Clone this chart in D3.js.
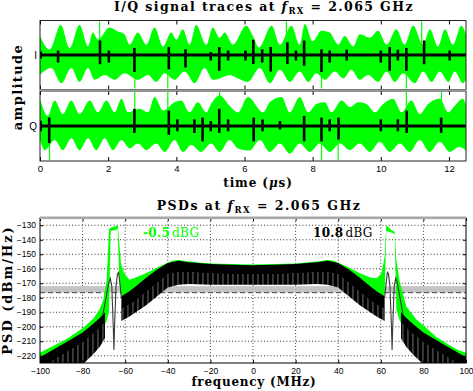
<!DOCTYPE html>
<html>
<head>
<meta charset="utf-8">
<script src="https://d3js.org/d3.v7.min.js"></script>
<style>
  body { margin: 0; background: #fff; }
  text { font-family: "Liberation Sans", Arial, sans-serif; }
  .serif { font-family: "DejaVu Serif", serif; font-weight: bold; }
</style>
</head>
<body>
<div id="fig"></div>
<script>
// ---------- data ----------
var tTicks = [0, 2, 4, 6, 8, 10, 12];
var fTicks = [-100, -80, -60, -40, -20, 0, 20, 40, 60, 80, 100];
var pTicks = [-220, -210, -200, -190, -180, -170, -160, -150, -140, -130];

// green envelope nodes [time us, amplitude]
var iUpper = [[0,0.55],[0.28,0.16],[0.61,0.87],[0.87,0.2],[1.16,0.87],[1.41,0.25],[1.55,0.65],[1.7,0.45],[2.04,0.8],[2.29,0.68],[2.48,0.6],[2.63,0.3],[2.87,0.65],[3.12,0.3],[3.36,0.8],[3.61,0.25],[3.85,0.65],[4.0,0.45],[4.19,0.75],[4.39,0.3],[4.58,0.87],[4.88,0.3],[5.07,0.8],[5.27,0.5],[5.42,0.65],[5.66,0.3],[6.05,0.85],[6.25,0.55],[6.42,0.22],[6.8,0.85],[7.04,0.3],[7.38,0.85],[7.62,0.3],[7.77,0.9],[8.0,0.4],[8.26,0.7],[8.5,0.65],[8.75,0.3],[8.94,0.55],[9.19,0.25],[9.38,0.6],[9.68,0.5],[9.92,0.7],[10.17,0.3],[10.46,0.75],[10.7,0.3],[10.95,0.85],[11.24,0.3],[11.44,0.75],[11.68,0.25],[11.88,0.75],[12.12,0.3],[12.36,0.85],[12.5,0.6]];
var iLower = [[0,-0.58],[0.33,-0.38],[0.63,-0.82],[0.92,-0.38],[1.16,-0.78],[1.41,-0.38],[1.6,-0.72],[1.9,-0.58],[2.19,-0.72],[2.48,-0.53],[2.87,-0.72],[3.17,-0.58],[3.41,-0.78],[3.66,-0.53],[3.95,-0.72],[4.24,-0.48],[4.54,-0.82],[4.83,-0.38],[5.07,-0.72],[5.27,-0.68],[5.56,-0.58],[5.81,-0.68],[6.1,-0.78],[6.45,-0.38],[6.75,-0.82],[7.04,-0.43],[7.33,-0.78],[7.62,-0.48],[7.87,-0.78],[8.11,-0.53],[8.36,-0.72],[8.65,-0.48],[8.9,-0.68],[9.14,-0.43],[9.38,-0.72],[9.63,-0.58],[9.92,-0.78],[10.17,-0.48],[10.41,-0.78],[10.66,-0.53],[11.0,-0.82],[11.24,-0.48],[11.49,-0.78],[11.73,-0.48],[11.98,-0.78],[12.17,-0.48],[12.41,-0.82],[12.5,-0.7]];
var qUpper = [[0,0.78],[0.23,0.29],[0.43,0.73],[0.67,0.34],[0.92,0.73],[1.16,0.34],[1.46,0.73],[1.7,0.39],[1.95,0.73],[2.19,0.39],[2.39,0.78],[2.58,0.39],[2.92,0.49],[3.17,0.39],[3.36,0.83],[3.61,0.44],[3.95,0.68],[4.14,0.73],[4.39,0.39],[4.63,0.68],[4.88,0.39],[5.02,0.63],[5.27,0.88],[5.56,0.58],[5.81,0.39],[6.1,0.83],[6.55,0.39],[6.74,0.68],[7.09,0.83],[7.33,0.39],[7.62,0.83],[7.87,0.39],[8.11,0.63],[8.36,0.68],[8.55,0.39],[8.85,0.73],[9.09,0.54],[9.34,0.68],[9.58,0.63],[9.83,0.39],[10.07,0.63],[10.36,0.78],[10.61,0.39],[10.9,0.73],[11.14,0.34],[11.39,0.63],[11.73,0.78],[11.98,0.39],[12.17,0.58],[12.41,0.78],[12.5,0.6]];
var qLower = [[0,-0.4],[0.14,-0.69],[0.43,-0.4],[0.67,-0.69],[0.92,-0.35],[1.16,-0.69],[1.41,-0.35],[1.65,-0.69],[1.9,-0.35],[2.14,-0.69],[2.39,-0.4],[2.63,-0.64],[2.87,-0.5],[3.12,-0.69],[3.41,-0.5],[3.66,-0.74],[3.95,-0.4],[4.19,-0.74],[4.44,-0.54],[4.73,-0.74],[5.02,-0.5],[5.27,-0.74],[5.56,-0.4],[5.81,-0.64],[6.15,-0.7],[6.45,-0.4],[6.74,-0.74],[7.04,-0.5],[7.33,-0.79],[7.62,-0.5],[7.92,-0.74],[8.21,-0.5],[8.5,-0.74],[8.8,-0.5],[9.09,-0.69],[9.38,-0.5],[9.68,-0.74],[9.97,-0.45],[10.26,-0.74],[10.56,-0.5],[10.85,-0.74],[11.14,-0.4],[11.43,-0.74],[11.73,-0.45],[12.02,-0.74],[12.3,-0.6],[12.5,-0.7]];

// thin green spikes [time, direction]
var iGreenSpikes = [[1.75,1],[2.78,-1],[3.75,-1],[7.23,1],[8.26,-1],[10.75,-1],[11.2,1]];
var qGreenSpikes = [[0.28,-1],[2.78,1],[3.75,1],[5.27,1],[8.26,-1],[8.75,-1],[10.75,1],[11.78,1]];

// black pulses [time, top, bottom]
var iPulses = [[0.02,0.1,-0.1],[0.53,0.13,-0.22],[1.76,0.42,-0.27],[2.02,0.13,-0.22],[2.77,0.2,-0.49],[3.78,0.23,-0.41],[4.27,0.17,-0.36],[5.01,0.09,-0.16],[5.26,0.23,-0.46],[5.52,0.13,-0.16],[6.03,0.13,-0.16],[6.26,0.44,-0.26],[6.52,0.17,-0.22],[6.77,0.23,-0.48],[7.26,0.37,-0.26],[7.51,0.13,-0.16],[7.75,0.42,-0.31],[8.26,0.17,-0.49],[8.5,0.13,-0.22],[9.0,0.15,-0.16],[10.0,0.13,-0.22],[10.26,0.23,-0.46],[10.5,0.15,-0.16],[10.75,0.2,-0.46],[11.27,0.42,-0.27],[12.02,0.13,-0.16]];
var qPulses = [[0.02,0.15,-0.15],[0.27,0.24,-0.49],[2.77,0.49,-0.2],[3.78,0.44,-0.25],[4.03,0.19,-0.15],[4.53,0.19,-0.2],[4.77,0.24,-0.44],[5.01,0.14,-0.15],[5.26,0.49,-0.2],[5.52,0.19,-0.15],[6.27,0.24,-0.44],[6.53,0.19,-0.15],[7.04,0.14,-0.1],[7.75,0.29,-0.44],[8.26,0.24,-0.44],[8.5,0.19,-0.15],[8.76,0.24,-0.39],[10.0,0.19,-0.15],[10.5,0.19,-0.15],[10.76,0.44,-0.2],[11.77,0.24,-0.2]];

// PSD, green trace envelope (MHz, dBm/Hz)
var fG   = [-100,-87.5,-80,-75,-72,-70.3,-68.7,-67.6,-66.8,-65,-63.5,-62.8,-62,-60.5,-58,-55,-50,-44,-38,-35,-30,-20,-10,0,10,20,30,35,38,44,50,55,58,60.3,61.8,62.6,64.9,66.5,67.3,68.9,72,76.7,80,86.1,95.5,100];
var gTop = [-218,-208.5,-201,-194.5,-188,-181.6,-167.8,-133,-131.5,-131,-129.8,-142,-156,-163,-167.5,-166,-163,-158.5,-154.5,-154,-155,-156.3,-156.8,-157,-156.8,-156.3,-155,-154,-154.5,-158.5,-163,-166,-166.6,-163.2,-151.7,-129.8,-133.3,-134.4,-154,-168.9,-186,-195,-199,-207,-215.5,-218];
var gBot = [-230,-224,-215,-208,-203,-200,-196,-190,-134,-133.5,-132.5,-168,-178,-180,-178,-176,-170,-165,-161,-160,-161,-162,-162,-162,-162,-162,-161,-160,-161,-165,-170,-176,-178,-180,-178,-134,-135,-136,-188,-196,-203,-208,-213,-220,-228,-230];

// PSD, black trace: top edge, bottom of solid part, bottom of comb
var fB   = [-100,-90,-80,-75,-72,-69.5,-65,-61.8,-58,-55,-50,-45,-40,-35,-30,-20,-10,0,10,20,30,35,40,45,50,55,58,61.8,65,69.5,72,75,80,90,100];
var bTop = [-221,-212.5,-204,-198,-194,-190,null,-179,-175.5,-172,-166,-160.5,-156,-154.5,-155.5,-156.8,-157.3,-157.5,-157.3,-156.8,-155.5,-154.5,-156,-160.5,-166,-172,-175.5,-179,null,-190,-194,-198,-204,-212.5,-221];
var bMid = [-229,-220,-211,-205,-201,-197,null,-188,-185,-182,-176,-170,-164,-162.5,-162.5,-163.5,-164,-164,-164,-163.5,-162.5,-162.5,-164,-170,-176,-182,-185,-188,null,-197,-201,-205,-211,-220,-229];
var bBot = [-245,-236,-226,-219,-214,-208,null,-196,-193,-190,-185,-179,-173,-171,-170.5,-171,-171,-171,-171,-171,-170.5,-171,-173,-179,-185,-190,-193,-196,null,-208,-214,-219,-226,-236,-245];

// narrow black humps around the two tones
var fHumpL = [-70.5,-69,-67.8,-67,-66.3,-65.6,-65.3,-65,-64.3,-63.6,-63.1,-62.5,-61.8];
var dbHumpL = [-192,-180,-170,-166.6,-172,-200,-216,-200,-172,-163.5,-162.5,-170,-180];
var fHumpR = [61.8,62.5,63.1,63.6,64.3,65,65.3,65.6,66.3,67,67.8,69,70.5];
var dbHumpR = [-180,-170,-162.5,-163.5,-172,-200,-216,-200,-172,-166.6,-170,-180,-192];

var floorBand = [-176.5, -172];

var GREEN = "#00ff00";

// ---------- svg ----------
var svg = d3.select("#fig").append("svg")
    .attr("width", 473).attr("height", 391);
svg.append("rect").attr("width", 473).attr("height", 391).attr("fill", "#fff");
var defs = svg.append("defs");

// ---------- top: I / Q traces ----------
var xT = d3.scaleLinear().domain([0, 12.5]).range([40, 466]);

var panels = [
  {name: "I", up: iUpper, lo: iLower, green: iGreenSpikes, pulses: iPulses, top: 20.5, bottom: 89.5},
  {name: "Q", up: qUpper, lo: qLower, green: qGreenSpikes, pulses: qPulses, top: 91, bottom: 161}
];

panels.forEach(function(p, k) {
  var y = d3.scaleLinear().domain([-1, 1]).range([p.bottom, p.top]);
  defs.append("clipPath").attr("id", "clip" + p.name).append("rect")
    .attr("x", xT(0)).attr("y", p.top)
    .attr("width", xT(12.5) - xT(0)).attr("height", p.bottom - p.top);
  var body = svg.append("g").attr("clip-path", "url(#clip" + p.name + ")");

  var env = d3.area()
    .x(function(d) { return xT(d[0]); })
    .y0(y(0))
    .y1(function(d) { return y(d[1]); })
    .curve(d3.curveMonotoneX);
  body.append("path").datum(p.up).attr("d", env).attr("fill", GREEN);
  body.append("path").datum(p.lo).attr("d", env).attr("fill", GREEN);

  body.selectAll(".gs").data(p.green).enter().append("line")
    .attr("x1", function(d) { return xT(d[0]); })
    .attr("x2", function(d) { return xT(d[0]); })
    .attr("y1", y(0))
    .attr("y2", function(d) { return y(d[1] * 0.97); })
    .attr("stroke", GREEN).attr("stroke-width", 1.2);

  // black trace: baseline plus pulses
  body.append("path").datum(xT.domain())
    .attr("d", d3.line().x(function(d) { return xT(d); }).y(y(0)))
    .attr("stroke", "#000").attr("stroke-width", 3.2);
  body.selectAll(".pl").data(p.pulses).enter().append("line")
    .attr("x1", function(d) { return xT(d[0]); })
    .attr("x2", function(d) { return xT(d[0]); })
    .attr("y1", function(d) { return y(d[1]); })
    .attr("y2", function(d) { return y(d[2]); })
    .attr("stroke", "#000").attr("stroke-width", 2.6);

  // ticks inside the box
  var tTop = svg.append("g").attr("transform", "translate(0," + p.top + ")")
    .call(d3.axisTop(xT).tickValues(tTicks).tickSize(-4).tickFormat(""));
  var tBot = svg.append("g").attr("transform", "translate(0," + p.bottom + ")")
    .call(d3.axisBottom(xT).tickValues(tTicks).tickSize(-4).tickPadding(4)
      .tickFormat(k == 1 ? d3.format("d") : ""));
  [tTop, tBot].forEach(function(a) {
    a.select(".domain").remove();
    a.selectAll("line").attr("stroke", "#000");
    a.selectAll("text").attr("font-size", 9.5).attr("fill", "#000")
      .style("font-family", "'Liberation Sans', Arial, sans-serif");
  });

  svg.append("rect").attr("x", xT(0)).attr("y", p.top)
    .attr("width", xT(12.5) - xT(0)).attr("height", p.bottom - p.top)
    .attr("fill", "none").attr("stroke", "#222").attr("stroke-width", 1);

  svg.append("text").attr("x", 37).attr("y", y(0)).attr("dy", "0.35em")
    .attr("text-anchor", "end").attr("font-size", 10).text(p.name);
});

// gray seam between the I and Q boxes
svg.append("rect").attr("x", xT(0)).attr("y", 89.3)
  .attr("width", xT(12.5) - xT(0)).attr("height", 2).attr("fill", "#9a9a9a");

// titles / labels for the top figure
var t1 = svg.append("text").attr("class", "serif").attr("x", 264).attr("y", 11)
  .attr("text-anchor", "middle").attr("font-size", 12.5).attr("letter-spacing", 1.4);
t1.append("tspan").text("I/Q signal traces at ");
t1.append("tspan").attr("font-style", "italic").text("f");
t1.append("tspan").attr("font-size", 8.5).attr("dy", 3).text("RX");
t1.append("tspan").attr("dy", -3).text(" = 2.065 GHz");

var xl1 = svg.append("text").attr("class", "serif").attr("x", 258).attr("y", 187)
  .attr("text-anchor", "middle").attr("font-size", 12).attr("letter-spacing", 0.9);
xl1.append("tspan").text("time (");
xl1.append("tspan").attr("font-style", "italic").text("\u03bc");
xl1.append("tspan").text("s)");

svg.append("text").attr("class", "serif")
  .attr("transform", "translate(22,87) rotate(-90)")
  .attr("text-anchor", "middle").attr("font-size", 13).attr("letter-spacing", 1.4)
  .text("amplitude");

// ---------- bottom: PSDs ----------
var xF = d3.scaleLinear().domain([-100, 100]).range([40, 466]);
var yP = d3.scaleLinear().domain([-225, -125]).range([363, 218]);

defs.append("clipPath").attr("id", "clipP").append("rect")
  .attr("x", xF(-100)).attr("y", yP(-125))
  .attr("width", xF(100) - xF(-100)).attr("height", yP(-225) - yP(-125));

var comb = defs.append("pattern").attr("id", "comb")
  .attr("patternUnits", "userSpaceOnUse").attr("width", 5).attr("height", 8);
comb.append("rect").attr("width", 5).attr("height", 8).attr("fill", "#000");
comb.append("rect").attr("x", 2.5).attr("width", 0.9).attr("height", 8).attr("fill", "#7a7a7a");

var plot = svg.append("g").attr("clip-path", "url(#clipP)");

// dotted grid
plot.selectAll(".gv").data(fTicks.slice(1, -1)).enter().append("line")
  .attr("x1", function(d) { return xF(d); }).attr("x2", function(d) { return xF(d); })
  .attr("y1", yP(-125)).attr("y2", yP(-225))
  .attr("stroke", "#000").attr("stroke-width", 0.8).attr("stroke-dasharray", "1,2.2");
plot.selectAll(".gh").data(pTicks).enter().append("line")
  .attr("x1", xF(-100)).attr("x2", xF(100))
  .attr("y1", function(d) { return yP(d); }).attr("y2", function(d) { return yP(d); })
  .attr("stroke", "#000").attr("stroke-width", 0.8).attr("stroke-dasharray", "1,2.2");

// noise floor band
plot.append("rect").attr("x", xF(-100)).attr("width", xF(100) - xF(-100))
  .attr("y", yP(floorBand[1])).attr("height", yP(floorBand[0]) - yP(floorBand[1]))
  .attr("fill", "#c4c4c4");
plot.append("line").attr("x1", xF(-100)).attr("x2", xF(100))
  .attr("y1", yP(floorBand[0])).attr("y2", yP(floorBand[0]))
  .attr("stroke", "#444").attr("stroke-dasharray", "5,3");

// green PSD
var gRows = fG.map(function(f, i) { return {f: f, top: gTop[i], bot: gBot[i]}; });
plot.append("path").datum(gRows)
  .attr("d", d3.area().x(function(d) { return xF(d.f); })
    .y1(function(d) { return yP(d.top); }).y0(function(d) { return yP(d.bot); }))
  .attr("fill", GREEN);

// black PSD
var bRows = fB.map(function(f, i) { return {f: f, top: bTop[i], mid: bMid[i], bot: bBot[i]}; });
var has = function(d) { return d.top != null; };
plot.append("path").datum(bRows)
  .attr("d", d3.area().defined(has).x(function(d) { return xF(d.f); })
    .y1(function(d) { return yP(d.top); }).y0(function(d) { return yP(d.mid); }))
  .attr("fill", "#000");
plot.append("path").datum(bRows)
  .attr("d", d3.area().defined(has).x(function(d) { return xF(d.f); })
    .y1(function(d) { return yP(d.mid) - 0.5; }).y0(function(d) { return yP(d.bot); }))
  .attr("fill", "url(#comb)");

var hump = d3.line().x(function(d) { return xF(d[0]); }).y(function(d) { return yP(d[1]); });
[[fHumpL, dbHumpL], [fHumpR, dbHumpR]].forEach(function(h) {
  plot.append("path").datum(d3.zip(h[0], h[1])).attr("d", hump)
    .attr("fill", "none").attr("stroke", "#3a3a3a").attr("stroke-width", 1.1);
});

// axes
var ax = svg.append("g").attr("transform", "translate(0," + yP(-225) + ")")
  .call(d3.axisBottom(xF).tickValues(fTicks).tickSize(-3).tickPadding(5)
    .tickFormat(function(d) { return d < 0 ? "\u2212" + (-d) : d; }));
var ay = svg.append("g").attr("transform", "translate(" + xF(-100) + ",0)")
  .call(d3.axisLeft(yP).tickValues(pTicks).tickSize(-3).tickPadding(4)
    .tickFormat(function(d) { return "\u2212" + (-d); }));
var ayr = svg.append("g").attr("transform", "translate(" + xF(100) + ",0)")
  .call(d3.axisRight(yP).tickValues(pTicks).tickSize(-3).tickFormat(""));
var axt = svg.append("g").attr("transform", "translate(0," + yP(-125) + ")")
  .call(d3.axisTop(xF).tickValues(fTicks).tickSize(-3).tickFormat(""));
[ax, ay, ayr, axt].forEach(function(a) {
  a.select(".domain").remove();
  a.selectAll("line").attr("stroke", "#000");
  a.selectAll("text").attr("font-size", 8.5).attr("fill", "#000")
    .style("font-family", "'Liberation Sans', Arial, sans-serif");
});

svg.append("rect").attr("x", xF(-100)).attr("y", yP(-125))
  .attr("width", xF(100) - xF(-100)).attr("height", yP(-225) - yP(-125))
  .attr("fill", "none").attr("stroke", "#000");
svg.append("rect").attr("x", xF(-100)).attr("y", yP(-125) - 1.5)
  .attr("width", xF(100) - xF(-100)).attr("height", 2.6).attr("fill", "#a8a8a8");

// level annotations
var a1 = svg.append("text").attr("class", "serif").attr("x", 143).attr("y", 237)
  .attr("font-size", 12).attr("fill", GREEN).attr("letter-spacing", 0.3);
a1.append("tspan").text("-0.5");
a1.append("tspan").attr("font-weight", "normal").attr("dx", 2).text("dBG");
var a2 = svg.append("text").attr("class", "serif").attr("x", 313).attr("y", 237)
  .attr("font-size", 12).attr("fill", "#000").attr("letter-spacing", 0.3);
a2.append("tspan").text("10.8");
a2.append("tspan").attr("font-weight", "normal").attr("dx", 2).text("dBG");

var t2 = svg.append("text").attr("class", "serif").attr("x", 259).attr("y", 210)
  .attr("text-anchor", "middle").attr("font-size", 12.5).attr("letter-spacing", 1.5);
t2.append("tspan").text("PSDs at ");
t2.append("tspan").attr("font-style", "italic").text("f");
t2.append("tspan").attr("font-size", 8.5).attr("dy", 3).text("RX");
t2.append("tspan").attr("dy", -3).text(" = 2.065 GHz");

svg.append("text").attr("class", "serif").attr("x", 254).attr("y", 386)
  .attr("text-anchor", "middle").attr("font-size", 12).attr("letter-spacing", 0.75)
  .text("frequency (MHz)");

svg.append("text").attr("class", "serif")
  .attr("transform", "translate(11.5,290) rotate(-90)")
  .attr("text-anchor", "middle").attr("font-size", 13).attr("letter-spacing", 2)
  .text("PSD (dBm/Hz)");
</script>
</body>
</html>
